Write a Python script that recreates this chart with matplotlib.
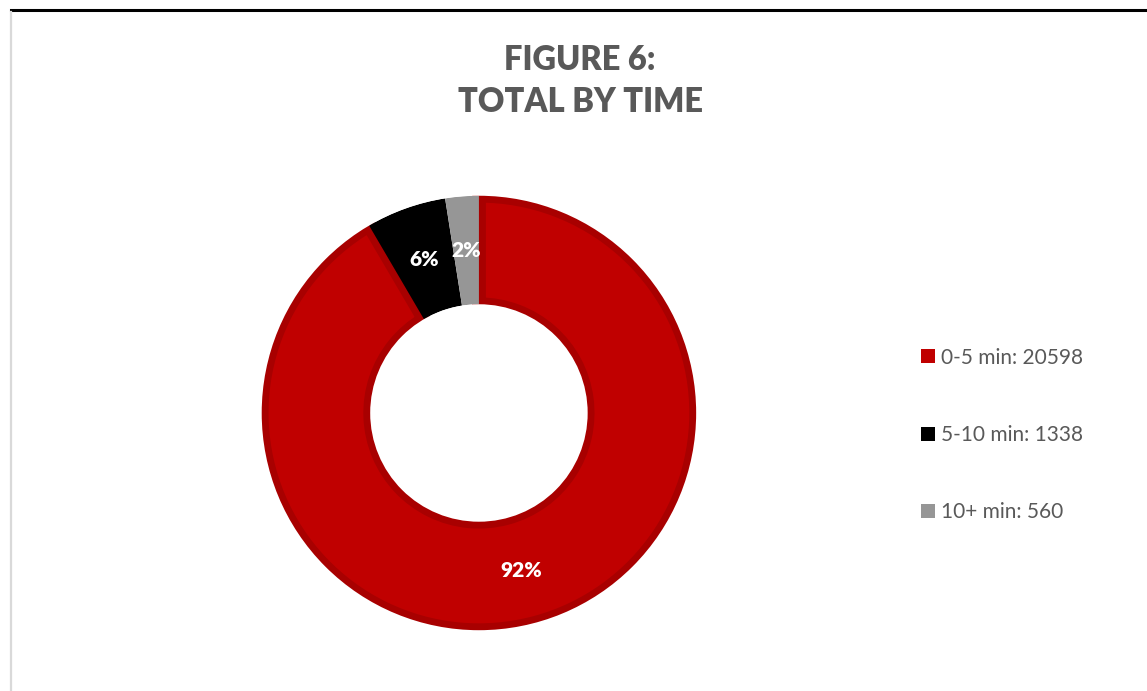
import matplotlib.pyplot as plt
from matplotlib.lines import Line2D
from matplotlib.patches import Circle

categorias = ['0-5 min', '5-10 min', '10+ min']
valores = [20598, 1338, 560]
colores = ['#C00000', '#000000', '#969696']
borde_rojo = '#A80000'

plt.rcParams['font.family'] = ['Lato', 'DejaVu Sans']

fig = plt.figure(figsize=(11.47, 6.91), dpi=100)
ax = fig.add_axes([0.2262, 0.0847, 0.3827, 0.6353])

wedges, textos, pct = ax.pie(valores, colors=colores, startangle=90, counterclock=False,
                             autopct='%1.0f%%', pctdistance=0.75,
                             wedgeprops=dict(width=0.5, linewidth=0),
                             textprops=dict(color='white', fontsize=15, fontweight='heavy'))
# borde interior oscuro del sector rojo
wedges[0].set_edgecolor(borde_rojo)
wedges[0].set_linewidth(10)
wedges[0].set_joinstyle('miter')
# tapar lo que el trazo sale del anillo
ax.add_patch(Circle((0, 0), 1.03, fill=False, edgecolor='white', linewidth=9.5,
                    zorder=2, clip_on=False))
ax.add_patch(Circle((0, 0), 0.47, fill=False, edgecolor='white', linewidth=9.5,
                    zorder=2, clip_on=False))
ax.set_xlim(-1.01, 1.01)
ax.set_ylim(-1.01, 1.01)
ax.set_aspect('equal')
ax.axis('off')

fig.text(0.5057, 0.913, 'FIGURE 6:', ha='center', va='center', fontsize=23.5,
         fontweight='heavy', color='#595959')
fig.text(0.5057, 0.852, 'TOTAL BY TIME', ha='center', va='center', fontsize=23.5,
         fontweight='heavy', color='#595959')

etiquetas = [f'{c}: {v}' for c, v in zip(categorias, valores)]
leg = fig.legend(wedges, etiquetas, loc='center left', bbox_to_anchor=(0.803, 0.3705),
                 frameon=False, fontsize=15, handlelength=0.65, handleheight=0.65,
                 handletextpad=0.3, labelspacing=2.75, borderpad=0, borderaxespad=0)
for t in leg.get_texts():
    t.set_color('#595959')
for h, c in zip(leg.legend_handles, colores):
    h.set_edgecolor(c)
    h.set_linewidth(0)

# marco de la imagen
fig.add_artist(Line2D([0.0096, 1], [0.9855, 0.9855], color='black', linewidth=2.2))
fig.add_artist(Line2D([0.0092, 0.0092], [0, 0.982], color='#D9D9D9', linewidth=1.6))

plt.savefig('out.png', dpi=100)
